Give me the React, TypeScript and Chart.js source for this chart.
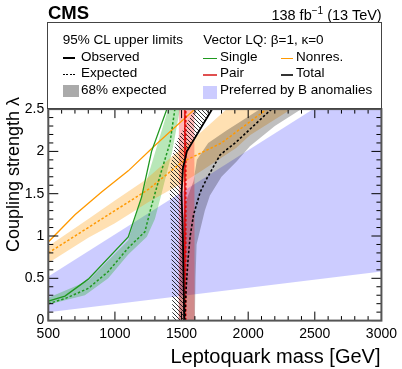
import React, { useEffect, useRef } from 'react';
import { Chart, registerables } from 'chart.js';

Chart.register(...registerables);

const FONT = '"Liberation Sans", Arial, Helvetica, sans-serif';

const xMin = 500, xMax = 3000, xMajor = 500, xMinor = 100;
const yMin = 0, yMax = 2.5, yMajor = 0.5, yMinor = 0.1;
const xTickLabels = ['500', '1000', '1500', '2000', '2500', '3000'];
const yTickLabels = ['0', '0.5', '1', '1.5', '2', '2.5'];

// Single production
const singleObsMass = [500, 625, 800, 1100, 1200, 1275, 1390];
const singleObsLambda = [0.23, 0.29, 0.49, 0.99, 1.46, 2.0, 2.5];
const singleExpMass = [500, 625, 800, 950, 1100, 1225, 1265, 1300, 1340, 1413, 1450];
const singleExpLambda = [0.2, 0.26, 0.38, 0.58, 0.86, 1.05, 1.3, 1.5, 1.72, 2.1, 2.5];
const singleBandUpMass = [500, 800, 1100, 1150, 1200, 1300, 1375, 1400];
const singleBandUpLambda = [0.27, 0.47, 0.95, 1.2, 1.46, 1.98, 2.37, 2.5];
const singleBandLoMass = [500, 775, 950, 1100, 1240, 1300, 1350, 1430, 1488];
const singleBandLoLambda = [0.19, 0.3, 0.5, 0.78, 0.99, 1.2, 1.5, 2.0, 2.5];

// Non-resonant
const nonresObsMass = [500, 700, 900, 1100, 1300, 1600];
const nonresObsLambda = [0.93, 1.25, 1.52, 1.77, 2.07, 2.5];
const nonresExpMass = [500, 800, 1000, 1250, 1500, 1800, 2140];
const nonresExpLambda = [0.8, 1.1, 1.3, 1.55, 1.87, 2.1, 2.5];
const nonresBandUpMass = [500, 800, 1000, 1225, 1400, 1590, 1840];
const nonresBandUpLambda = [0.88, 1.2, 1.42, 1.66, 1.9, 2.15, 2.5];
const nonresBandLoMass = [500, 800, 1000, 1250, 1500, 1640, 1910, 2013, 2325];
const nonresBandLoLambda = [0.68, 0.98, 1.15, 1.4, 1.62, 1.76, 2.04, 2.19, 2.5];

// Pair production
const pairLambda = [0, 2.5];
const pairObsMass = [1525, 1525];
const pairExpMass = [1532, 1532];
const pairBandLoMass = [1478, 1480];
const pairBandUpMass = [1598, 1596];

// Total
const totalObsMass = [1520, 1515, 1510, 1500, 1510, 1540, 1730];
const totalObsLambda = [0, 0.5, 1.0, 1.5, 1.8, 2.0, 2.5];
const totalHatchMass = [1432, 1427, 1422, 1412, 1420, 1455, 1600];
const totalHatchLambda = [0, 0.5, 1.0, 1.5, 1.85, 2.1, 2.5];
const totalExpMass = [1525, 1535, 1550, 1565, 1590, 1640, 1690, 1790, 1910, 2175];
const totalExpLambda = [0, 0.4, 0.75, 1.0, 1.25, 1.52, 1.68, 1.96, 2.11, 2.5];
const totalBandLoMass = [1480, 1490, 1530, 1590, 1615, 1700, 1840, 2090];
const totalBandLoLambda = [0, 1.0, 1.4, 1.65, 1.9, 2.1, 2.25, 2.5];
const totalBandUpMass = [1600, 1605, 1613, 1675, 1713, 1800, 1913, 2013, 2200, 2400];
const totalBandUpLambda = [0, 0.5, 0.9, 1.3, 1.48, 1.7, 1.88, 2.06, 2.3, 2.5];

// Preferred by B anomalies
const bAnomMass = [500, 3000, 3000, 500];
const bAnomLambda = [0.1, 0.58, 3.01, 0.52];

const pts = (m: number[], l: number[]) => m.map((x, i) => ({ x, y: l[i] }));
const poly = (m1: number[], l1: number[], m2: number[], l2: number[]) => [
  ...pts(m1, l1),
  ...pts(m2, l2).reverse(),
];

const GREEN = '#1f991f';
const ORANGE = '#ff9900';
const RED = '#e00000';

function makeHatch(): CanvasPattern | string {
  const c = document.createElement('canvas');
  const s = 4;
  c.width = s;
  c.height = s;
  const g = c.getContext('2d');
  if (!g) return 'rgba(0,0,0,0.3)';
  g.strokeStyle = '#000';
  g.lineWidth = 0.8;
  g.beginPath();
  g.moveTo(-1, -1);
  g.lineTo(s + 1, s + 1);
  g.moveTo(-1, s - 1);
  g.lineTo(1, s + 1);
  g.moveTo(s - 1, -1);
  g.lineTo(s + 1, 1);
  g.stroke();
  return g.createPattern(c, 'repeat') || '#000';
}

// fills a dataset's points as a closed polygon, using the positions Chart.js computed
const polyPlugin = {
  id: 'polyFill',
  beforeDatasetDraw(chart: any, args: any) {
    const ds = chart.data.datasets[args.index];
    if (!ds || !ds.polyFill) return;
    const els = args.meta.data;
    if (!els || els.length < 3) return;
    const { ctx, chartArea: a } = chart;
    ctx.save();
    ctx.beginPath();
    ctx.rect(a.left, a.top, a.right - a.left, a.bottom - a.top);
    ctx.clip();
    ctx.beginPath();
    els.forEach((el: any, i: number) => {
      if (i === 0) ctx.moveTo(el.x, el.y);
      else ctx.lineTo(el.x, el.y);
    });
    ctx.closePath();
    ctx.fillStyle = ds.polyFill;
    ctx.fill();
    ctx.restore();
  },
};

const framePlugin = {
  id: 'frameTicks',
  afterDatasetsDraw(chart: any) {
    const { ctx, chartArea: a, scales } = chart;
    const xs = scales.x;
    const ys = scales.y;
    ctx.save();
    ctx.strokeStyle = '#000';
    ctx.lineWidth = 1;
    ctx.beginPath();
    const nx = Math.round((xMax - xMin) / xMinor);
    const xr = Math.round(xMajor / xMinor);
    for (let i = 0; i <= nx; i++) {
      const px = xs.getPixelForValue(xMin + i * xMinor);
      const len = i % xr === 0 ? 9 : 4.5;
      ctx.moveTo(px, a.bottom);
      ctx.lineTo(px, a.bottom - len);
      ctx.moveTo(px, a.top);
      ctx.lineTo(px, a.top + len);
    }
    const ny = Math.round((yMax - yMin) / yMinor);
    const yr = Math.round(yMajor / yMinor);
    for (let i = 0; i <= ny; i++) {
      const py = ys.getPixelForValue(yMin + i * yMinor);
      const len = i % yr === 0 ? 10 : 5;
      ctx.moveTo(a.left, py);
      ctx.lineTo(a.left + len, py);
      ctx.moveTo(a.right, py);
      ctx.lineTo(a.right - len, py);
    }
    ctx.stroke();
    ctx.strokeStyle = '#555';
    ctx.lineWidth = 2;
    ctx.strokeRect(a.left, a.top, a.right - a.left, a.bottom - a.top);
    ctx.restore();
  },
};

function Txt(props: {
  x: number;
  base: number;
  size: number;
  bold?: boolean;
  right?: boolean;
  children: React.ReactNode;
}) {
  const { x, base, size, bold, right, children } = props;
  const style: React.CSSProperties = {
    position: 'absolute',
    top: base - 0.8465 * size,
    fontSize: size,
    lineHeight: `${size}px`,
    fontFamily: FONT,
    fontWeight: bold ? 'bold' : 'normal',
    whiteSpace: 'nowrap',
    color: '#000',
  };
  if (right) style.right = 402 - x;
  else style.left = x;
  return <div style={style}>{children}</div>;
}

function LineSample(props: { x: number; y: number; w: number; color: string; dotted?: boolean }) {
  const { x, y, w, color, dotted } = props;
  return (
    <div
      style={{
        position: 'absolute',
        left: x,
        top: y - 0.75,
        width: w,
        height: 1.5,
        background: dotted
          ? `repeating-linear-gradient(90deg, ${color} 0 2px, transparent 2px 3.5px)`
          : color,
      }}
    />
  );
}

export default function App() {
  const ref = useRef<HTMLCanvasElement | null>(null);

  useEffect(() => {
    if (!ref.current) return;
    const hatch = makeHatch();
    const line = (data: any[], color: string, width: number, dash: number[] = []) => ({
      type: 'scatter' as const,
      data,
      showLine: true,
      borderColor: color,
      borderWidth: width,
      borderDash: dash,
      pointRadius: 0,
      pointHoverRadius: 0,
      fill: false,
      tension: 0,
      clip: 0,
      order: 0,
    });
    const shape = (data: any[], color: any, order: number) => ({
      type: 'scatter' as const,
      data,
      showLine: false,
      pointRadius: 0,
      pointHoverRadius: 0,
      fill: false,
      polyFill: color,
      order,
    });

    const chart = new Chart(ref.current, {
      type: 'scatter',
      data: {
        datasets: [
          line(pts(totalObsMass, totalObsLambda), '#000', 1.8),
          line(pts(totalExpMass, totalExpLambda), '#000', 1.6, [2.5, 2]),
          line(pts(pairObsMass, pairLambda), RED, 1.4),
          line(pts(pairExpMass, pairLambda), RED, 1.4, [2.5, 2]),
          line(pts(singleObsMass, singleObsLambda), GREEN, 1.3),
          line(pts(singleExpMass, singleExpLambda), GREEN, 1.5, [2.5, 2]),
          line(pts(nonresObsMass, nonresObsLambda), ORANGE, 1.3),
          line(pts(nonresExpMass, nonresExpLambda), ORANGE, 1.5, [2.5, 2]),
          shape(poly(totalObsMass, totalObsLambda, totalHatchMass, totalHatchLambda), hatch, 1),
          shape(poly(pairBandLoMass, pairLambda, pairBandUpMass, pairLambda), 'rgba(255,0,0,0.28)', 2),
          shape(poly(totalBandLoMass, totalBandLoLambda, totalBandUpMass, totalBandUpLambda), 'rgba(0,0,0,0.25)', 3),
          shape(poly(nonresBandUpMass, nonresBandUpLambda, nonresBandLoMass, nonresBandLoLambda), 'rgba(255,153,0,0.3)', 4),
          shape(poly(singleBandUpMass, singleBandUpLambda, singleBandLoMass, singleBandLoLambda), 'rgba(0,170,0,0.28)', 4),
          shape(pts(bAnomMass, bAnomLambda), 'rgba(0,0,255,0.2)', 6),
        ] as any,
      },
      options: {
        animation: false,
        responsive: false,
        maintainAspectRatio: false,
        devicePixelRatio: 1,
        events: [],
        layout: { padding: { left: 0, top: 109.1, right: 20.3, bottom: 0 } },
        plugins: {
          legend: { display: false },
          tooltip: { enabled: false },
          title: { display: false },
        },
        scales: {
          x: {
            type: 'linear',
            min: xMin,
            max: xMax,
            grid: { display: false, drawTicks: false },
            border: { display: false },
            ticks: {
              stepSize: xMajor,
              padding: 5,
              color: '#000',
              font: { family: FONT, size: 14 },
              maxRotation: 0,
              autoSkip: false,
              callback: (_v: any, i: number) => xTickLabels[i] ?? '',
            },
            afterFit: (s: any) => {
              s.height = 48.4;
            },
          },
          y: {
            type: 'linear',
            min: yMin,
            max: yMax,
            grid: { display: false, drawTicks: false },
            border: { display: false },
            ticks: {
              stepSize: yMajor,
              padding: 4,
              color: '#000',
              font: { family: FONT, size: 14 },
              autoSkip: false,
              callback: (_v: any, i: number) => yTickLabels[i] ?? '',
            },
            afterFit: (s: any) => {
              s.width = 48.3;
            },
          },
        },
      } as any,
      plugins: [polyPlugin, framePlugin],
    });
    return () => chart.destroy();
  }, []);

  return (
    <div style={{ position: 'absolute', left: 0, top: 0, width: 402, height: 369, background: '#fff', overflow: 'hidden' }}>
      <canvas ref={ref} width={402} height={369} style={{ position: 'absolute', left: 0, top: 0, width: 402, height: 369 }} />
      <Txt x={48} base={20} size={18.5} bold>CMS</Txt>
      <Txt x={381.7} base={20.5} size={14.5} right>
        138 fb<sup style={{ fontSize: 10, verticalAlign: 'baseline', position: 'relative', top: -6 }}>−1</sup> (13 TeV)
      </Txt>
      {/* legend box */}
      <div
        style={{
          position: 'absolute',
          left: 47.3,
          top: 21.5,
          width: 334.4,
          height: 87.6,
          border: '1px solid #444',
          boxSizing: 'border-box',
        }}
      />
      <Txt x={62.7} base={44.5} size={13.5}>95% CL upper limits</Txt>
      <LineSample x={62.7} y={57.8} w={12.5} color="#000" />
      <Txt x={81} base={61} size={13.5}>Observed</Txt>
      <LineSample x={62.7} y={74.3} w={12.5} color="#000" dotted />
      <Txt x={81} base={77.5} size={13.5}>Expected</Txt>
      <div style={{ position: 'absolute', left: 62.7, top: 85, width: 16.6, height: 11.7, background: '#aaa' }} />
      <Txt x={81} base={94} size={13.5}>68% expected</Txt>

      <Txt x={203.3} base={44.5} size={13.5}>Vector LQ: β=1, κ=0</Txt>
      <LineSample x={203.3} y={58.5} w={13.4} color={GREEN} />
      <Txt x={220} base={61} size={13.5}>Single</Txt>
      <LineSample x={280.7} y={58.5} w={12.6} color={ORANGE} />
      <Txt x={296} base={61} size={13.5}>Nonres.</Txt>
      <LineSample x={203.3} y={75} w={13.4} color={'#e05050'} />
      <Txt x={220} base={77.5} size={13.5}>Pair</Txt>
      <LineSample x={280.7} y={75} w={12.6} color="#333" />
      <Txt x={296} base={77.5} size={13.5}>Total</Txt>
      <div style={{ position: 'absolute', left: 203.3, top: 86, width: 13.4, height: 13, background: 'rgb(204,204,255)' }} />
      <Txt x={220} base={94} size={13.5}>Preferred by B anomalies</Txt>

      {/* axis titles */}
      <Txt x={380.5} base={363} size={20} right>Leptoquark mass [GeV]</Txt>
      <div
        style={{
          position: 'absolute',
          left: 4,
          top: 258,
          width: 161,
          transform: 'rotate(-90deg)',
          transformOrigin: 'left top',
          textAlign: 'right',
          fontFamily: FONT,
          fontSize: 18,
          lineHeight: '19px',
          whiteSpace: 'nowrap',
          color: '#000',
        }}
      >
        Coupling strength λ
      </div>
    </div>
  );
}
